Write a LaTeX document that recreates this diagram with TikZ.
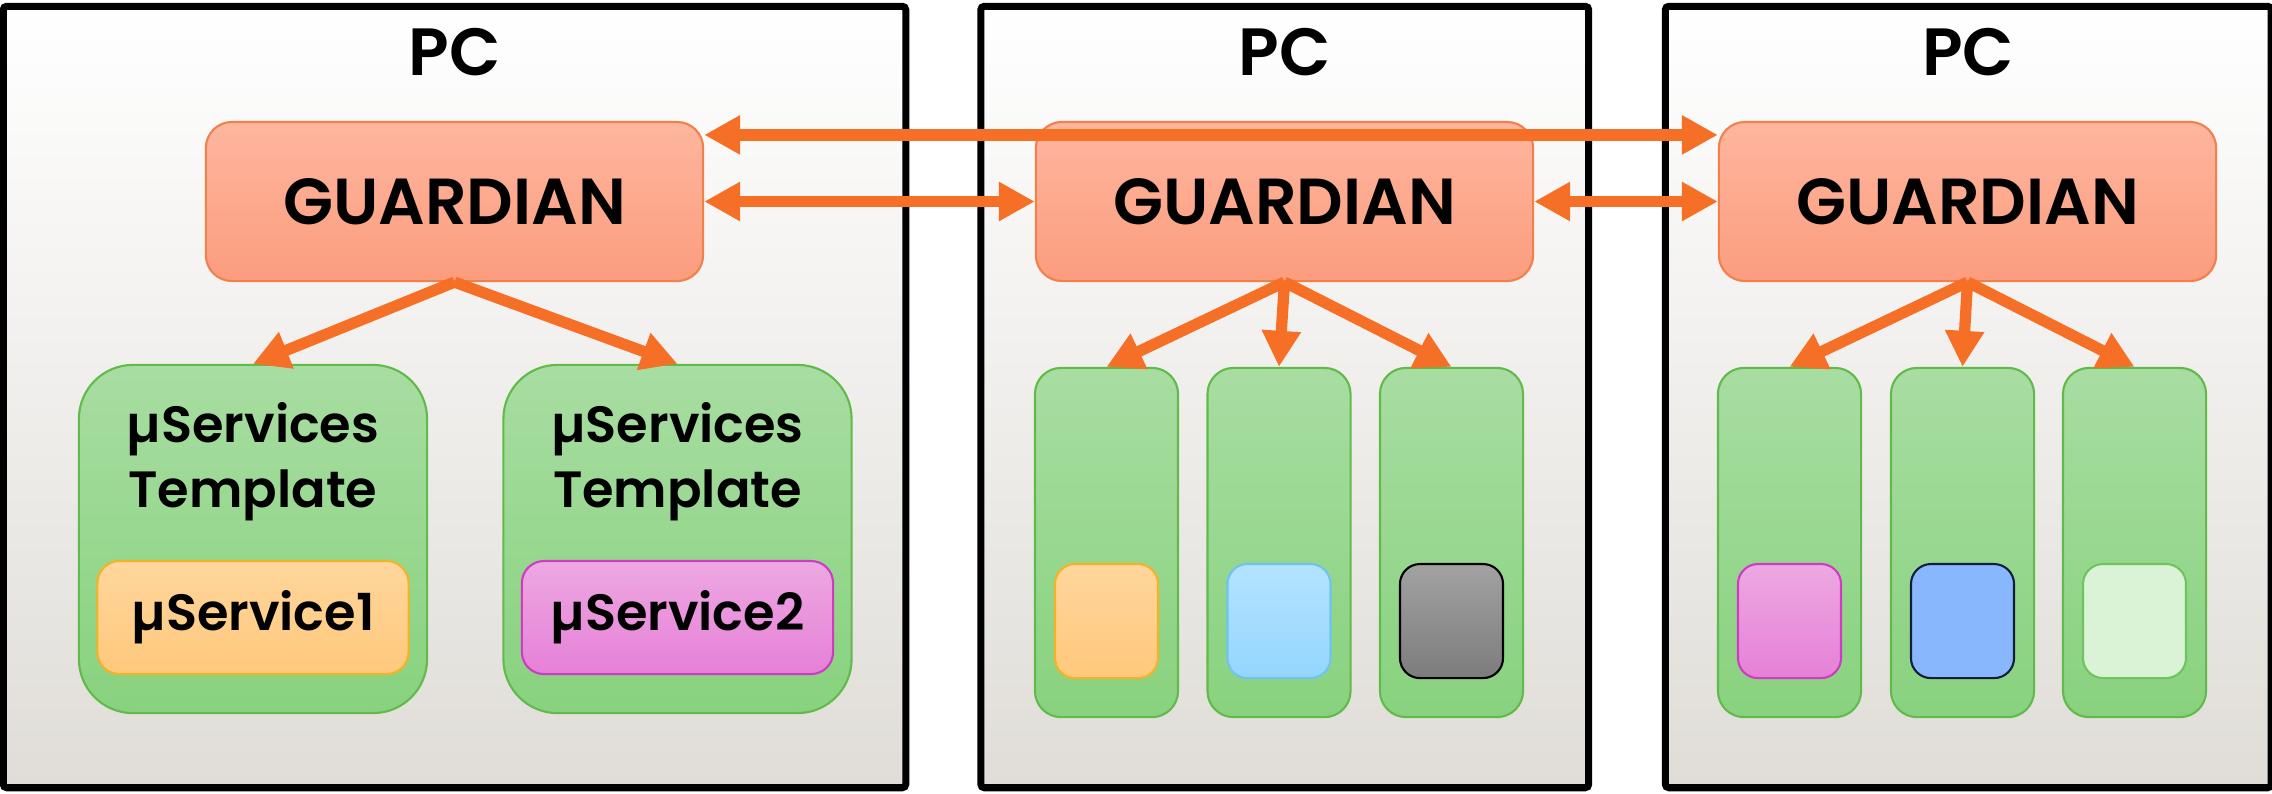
\documentclass[tikz,border=0pt]{standalone}
\usepackage{fontspec}
\setmainfont{Poppins}[BoldFont={Poppins SemiBold}]
\usetikzlibrary{positioning, arrows.meta}

\definecolor{pcbottom}{RGB}{224,221,216}
\definecolor{linkorange}{RGB}{245,112,38}
\definecolor{guardtop}{RGB}{253,182,158}
\definecolor{guardbottom}{RGB}{252,156,126}
\definecolor{guardline}{RGB}{240,128,76}
\definecolor{greentop}{RGB}{168,221,162}
\definecolor{greenbottom}{RGB}{136,210,126}
\definecolor{greenline}{RGB}{98,186,74}
\definecolor{ambertop}{RGB}{255,214,156}
\definecolor{amberbottom}{RGB}{255,200,124}
\definecolor{amberline}{RGB}{245,178,36}
\definecolor{pinktop}{RGB}{237,168,226}
\definecolor{pinkbottom}{RGB}{230,128,215}
\definecolor{pinkline}{RGB}{205,60,195}
\definecolor{skytop}{RGB}{180,227,255}
\definecolor{skybottom}{RGB}{148,214,255}
\definecolor{skyline}{RGB}{110,195,240}
\definecolor{greytop}{RGB}{162,162,162}
\definecolor{greybottom}{RGB}{124,124,124}
\definecolor{blueface}{RGB}{137,183,253}
\definecolor{blueline}{RGB}{20,30,60}
\definecolor{paleface}{RGB}{218,242,213}
\definecolor{paleline}{RGB}{112,196,96}

\begin{document}
\begin{tikzpicture}[
    x=0.01cm, y=-0.01cm,
    >={Triangle[length=3.6mm,width=3.7mm]},
    pc/.style      ={rectangle, rounded corners=1pt, draw=black, line width=2pt, top color=white, bottom color=pcbottom},
    pclabel/.style ={font=\fontsize{19}{22}\selectfont\bfseries, inner sep=0pt},
    guardian/.style={rectangle, rounded corners=2.6mm, draw=guardline, line width=0.6pt, top color=guardtop, bottom color=guardbottom, minimum width=4.97cm, minimum height=1.59cm, font=\fontsize{18.5}{22}\selectfont\bfseries},
    template/.style={rectangle, rounded corners=5.4mm, draw=greenline, line width=0.6pt, top color=greentop, bottom color=greenbottom, minimum width=3.48cm, minimum height=3.48cm},
    tmpltext/.style={font=\fontsize{14.5}{18.5}\selectfont\bfseries, align=center, inner sep=0pt},
    slot/.style    ={rectangle, rounded corners=2.6mm, draw=greenline, line width=0.6pt, top color=greentop, bottom color=greenbottom, minimum width=1.43cm, minimum height=3.49cm},
    service/.style ={rectangle, rounded corners=2.2mm, line width=0.6pt, minimum width=3.11cm, minimum height=1.13cm, font=\fontsize{14.5}{18.5}\selectfont\bfseries},
    chip/.style    ={rectangle, rounded corners=2mm, line width=0.6pt, minimum width=1.03cm, minimum height=1.14cm},
    link/.style    ={draw=linkorange, line width=3.2pt},
]

\useasboundingbox (0,0) rectangle (2272,793);

%==================== MACHINES ====================

\node[pc, minimum width=9.02cm, minimum height=7.81cm] (pc1) at (454.5,397) {};
\node[pc, minimum width=6.075cm, minimum height=7.81cm] (pc2) at (1284.75,397) {};
\node[pc, minimum width=6.055cm, minimum height=7.81cm] (pc3) at (1968.25,397) {};

\node[pclabel, anchor=base] (pc1l) at ([yshift=-7.25mm]pc1.north) {PC};
\node[pclabel, anchor=base] (pc2l) at ([yshift=-7.25mm]pc2.north) {PC};
\node[pclabel, anchor=base] (pc3l) at ([yshift=-7.25mm]pc3.north) {PC};

%==================== GUARDIANS ====================

\node[guardian] (guard1) at (454.5,201.5)  {GUARDIAN};
\node[guardian] (guard2) at (1284.5,201.5) {GUARDIAN};
\node[guardian] (guard3) at (1967.5,201.5) {GUARDIAN};

%==================== PC 1: TEMPLATES ====================

\node[template] (tmpl1) at (253,539)   {};
\node[template] (tmpl2) at (677.5,539) {};

\node[tmpltext] (tmpl1t) at (253,462)   {µServices\\Template};
\node[tmpltext] (tmpl2t) at (677.5,462) {µServices\\Template};

\node[service, draw=amberline, top color=ambertop, bottom color=amberbottom, above=3.9mm of tmpl1.south] (svc1) {µService1};
\node[service, draw=pinkline,  top color=pinktop,  bottom color=pinkbottom,  above=3.9mm of tmpl2.south] (svc2) {µService2};

%==================== PC 2: SLOTS ====================

\node[slot] (slot21) at (1106.5,542.5) {};
\node[slot] (slot22) at (1279,542.5)   {};
\node[slot] (slot23) at (1451.5,542.5) {};

\node[chip, draw=amberline, top color=ambertop, bottom color=amberbottom, above=3.9mm of slot21.south] (chip21) {};
\node[chip, draw=skyline,   top color=skytop,   bottom color=skybottom,   above=3.9mm of slot22.south] (chip22) {};
\node[chip, draw=black,     top color=greytop,  bottom color=greybottom,  above=3.9mm of slot23.south] (chip23) {};

%==================== PC 3: SLOTS ====================

\node[slot] (slot31) at (1789.5,542.5) {};
\node[slot] (slot32) at (1962.5,542.5) {};
\node[slot] (slot33) at (2134.5,542.5) {};

\node[chip, draw=pinkline,  top color=pinktop, bottom color=pinkbottom, above=3.9mm of slot31.south] (chip31) {};
\node[chip, draw=blueline,  fill=blueface,  above=3.9mm of slot32.south] (chip32) {};
\node[chip, draw=paleline,  fill=paleface,  above=3.9mm of slot33.south] (chip33) {};

%==================== ARROWS ====================

% guardian to guardian
\draw[link, <->] ([yshift=-1.4mm]guard1.north east) -- ([yshift=-1.4mm]guard3.north west);
\draw[link, <->] (guard1.east) -- (guard2.west);
\draw[link, <->] (guard2.east) -- (guard3.west);

% guardian to its services
\draw[link, ->] (guard1.south) -- (tmpl1.north);
\draw[link, ->] (guard1.south) -- (tmpl2.north);

\draw[link, ->] (guard2.south) -- (slot21.north);
\draw[link, ->] (guard2.south) -- (slot22.north);
\draw[link, ->] (guard2.south) -- (slot23.north);

\draw[link, ->] (guard3.south) -- (slot31.north);
\draw[link, ->] (guard3.south) -- (slot32.north);
\draw[link, ->] (guard3.south) -- (slot33.north);

\end{tikzpicture}
\end{document}
